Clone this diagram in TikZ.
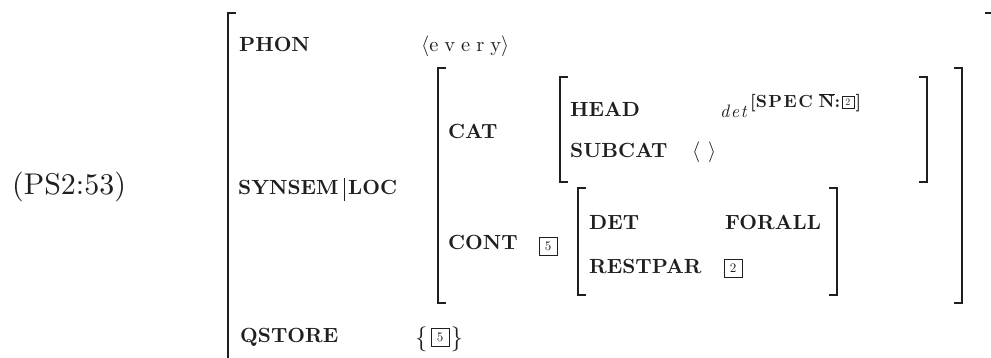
\documentclass[tikz,border=0pt]{standalone}
\usepackage{fontspec}
\setmainfont{lmroman10-regular.otf}[BoldFont=lmroman10-bold.otf, ItalicFont=lmroman10-italic.otf, BoldItalicFont=lmroman10-bolditalic.otf]
\begin{document}
\begin{tikzpicture}[x=1pt,y=-1pt,
  ink/.style={black!88},
  feat/.style={anchor=base west, inner sep=0pt, ink, font=\fontsize{20.5}{24}\selectfont\bfseries},
  valtext/.style={anchor=base west, inner sep=0pt, ink, font=\fontsize{20.5}{24}\selectfont},
  spectext/.style={anchor=base west, inner sep=0pt, ink, font=\fontsize{17.5}{20}\selectfont\bfseries},
  dettext/.style={anchor=base west, inner sep=0pt, ink, font=\fontsize{18}{20}\selectfont\itshape},
  bigtext/.style={anchor=base west, inner sep=0pt, ink, font=\fontsize{30}{34}\selectfont},
  bracetext/.style={anchor=base west, inner sep=0pt, ink, font=\fontsize{29}{34}\selectfont},
  brk/.style={draw=black!88, line width=1.7pt},
  tagbox/.style={draw=black!88, line width=1pt, minimum size=18pt, inner sep=0pt, text=black!88, font=\fontsize{13}{14}\selectfont},
  smalltag/.style={draw=black!88, line width=0.9pt, minimum size=12pt, inner sep=0pt, text=black!88, font=\fontsize{10}{11}\selectfont}
]
\useasboundingbox (0,0) rectangle (991,358);
\fill[white] (0,0) rectangle (991,358);

% label
\node[bigtext] (ps) at (12,195) {(PS2:53)};

% outer bracket
\draw[brk] (236,13) -- (228,13) -- (228,362);
\draw[brk] (985,13) -- (992,13);

% level 2 brackets (SYNSEM|LOC value)
\draw[brk] (446,68) -- (438,68) -- (438,303) -- (446,303);
\draw[brk] (954,68) -- (962,68) -- (962,303) -- (954,303);

% level 3 brackets (CAT value)
\draw[brk] (568,77) -- (560,77) -- (560,182) -- (568,182);
\draw[brk] (919,77) -- (927,77) -- (927,182) -- (919,182);

% level 4 brackets (CONT value)
\draw[brk] (586,188) -- (578,188) -- (578,295) -- (586,295);
\draw[brk] (829,188) -- (837,188) -- (837,295) -- (829,295);

% top level
\node[feat] (phon) at (239,52) {PHON};
\node[valtext] (every) at (421,52) {$\langle$e\kern6pt v\kern6pt e\kern6pt r\kern6pt y$\rangle$};
\node[feat] (synsem) at (238,195) {SYNSEM};
\coordinate (bartop) at (344,178);
\coordinate (barbot) at (344,201);
\draw[draw=black!88, line width=1pt] (bartop) -- (barbot);
\node[feat] (loc) at (348,195) {LOC};
\node[feat] (qstore) at (240,342) {QSTORE};
\node[bracetext] (lbr) at (415,345) {$\{$};
\node[tagbox] (q5) at (440,337.5) {5};
\node[bracetext] (rbr) at (450.5,345) {$\}$};

% level 2
\node[feat] (cat) at (448,139) {CAT};
\node[feat] (cont) at (448,250) {CONT};
\node[tagbox] (c5) at (548,246.5) {5};

% CAT value
\node[feat] (head) at (570,117) {HEAD};
\node[dettext] (det) at (720,118) {d\kern1.5pt e\kern1.5pt t};
\node[spectext] (spec) at (750,108) {[S\kern1.5pt P\kern1.5pt E\kern1.5pt C\kern6pt $\overline{\mbox{N}}$:};
\node[smalltag, anchor=south west] (s2) at ([xshift=1pt,yshift=-0.5pt]spec.base east) {2};
\node[spectext] (rsb) at ([xshift=1pt]s2.east |- spec.base) {]};
\node[feat] (subcat) at (570,158) {SUBCAT};
\node[valtext] (empty) at (692,158) {$\langle\hspace{8pt}\rangle$};

% CONT value
\node[feat] (detf) at (589,230) {DET};
\node[feat] (forall) at (725,230) {FORALL};
\node[feat] (restpar) at (589,273) {RESTPAR};
\node[tagbox] (r2) at (733,268.5) {2};
\end{tikzpicture}
\end{document}
